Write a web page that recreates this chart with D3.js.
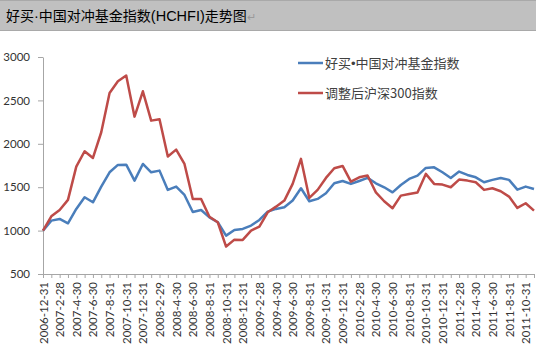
<!DOCTYPE html>
<html><head><meta charset="utf-8">
<script src="https://cdn.jsdelivr.net/npm/d3@7"></script>
<style>
html,body{margin:0;padding:0;background:#fff;}
svg{display:block;}
</style></head>
<body>
<svg id="c" width="536" height="355"></svg>
<script>
const dates = ["2006-12-31","2007-1-31","2007-2-28","2007-3-31","2007-4-30","2007-5-31","2007-6-30","2007-7-31","2007-8-31","2007-9-30","2007-10-31","2007-11-30","2007-12-31","2008-1-31","2008-2-29","2008-3-31","2008-4-30","2008-5-31","2008-6-30","2008-7-31","2008-8-31","2008-9-30","2008-10-31","2008-11-30","2008-12-31","2009-1-31","2009-2-28","2009-3-31","2009-4-30","2009-5-31","2009-6-30","2009-7-31","2009-8-31","2009-9-30","2009-10-31","2009-11-30","2009-12-31","2010-1-31","2010-2-28","2010-3-31","2010-4-30","2010-5-31","2010-6-30","2010-7-31","2010-8-31","2010-9-30","2010-10-31","2010-11-30","2010-12-31","2011-1-31","2011-2-28","2011-3-31","2011-4-30","2011-5-31","2011-6-30","2011-7-31","2011-8-31","2011-9-30","2011-10-31","2011-11-30"];
const hchfi = [1000,1115,1134,1084,1250,1384,1326,1507,1672,1757,1760,1576,1768,1672,1691,1469,1507,1411,1215,1238,1153,1096,942,1008,1019,1058,1123,1219,1250,1269,1346,1488,1338,1365,1430,1545,1572,1538,1572,1607,1545,1499,1441,1526,1595,1634,1722,1729,1672,1607,1680,1641,1614,1557,1584,1607,1584,1472,1507,1480];
const hs300 = [1000,1165,1238,1354,1737,1914,1837,2133,2586,2720,2786,2313,2605,2267,2282,1853,1933,1768,1365,1365,1160,1096,816,896,893,1000,1046,1211,1276,1346,1538,1826,1376,1469,1607,1718,1745,1564,1614,1634,1440,1338,1257,1403,1422,1438,1653,1538,1530,1499,1588,1576,1557,1469,1488,1453,1392,1261,1315,1230];
const yTicks = [500,1000,1500,2000,2500,3000];
const seriesNames = [["好买","•","中国对冲基金指数"],["调整后沪深300指数"]];
const colors = ["#4a7ebb","#be4b48"];
const titleParts = ["好买","·","中国对冲基金指数","(HCHFI)","走势图"];

const svg = d3.select("#c");
const W = 536;
const cjk = "'Noto Sans CJK SC'";
const latin = "'Liberation Sans', sans-serif";

// title band
svg.append("rect").attr("x",0).attr("y",0).attr("width",W).attr("height",30).attr("fill","#c0c0c0");
svg.append("line").attr("x1",0).attr("x2",W).attr("y1",0.5).attr("y2",0.5).attr("stroke","#a9a9a9");
svg.append("line").attr("x1",0).attr("x2",W).attr("y1",30.5).attr("y2",30.5).attr("stroke","#a9a9a9");
const tt = svg.append("text").attr("x",6).attr("y",21)
  .style("font-family",cjk).style("font-size","14px").attr("fill","#000");
titleParts.forEach((p,i)=>{
  const ts = tt.append("tspan").text(p);
  if (i===1 || i===3) ts.style("font-family",latin).style("font-size","14.5px");
});
tt.append("tspan").text("↵").attr("fill","#9a9a9a").style("font-size","11px");

const x = d3.scalePoint().domain(dates).range([43,534]);
const y = d3.scaleLinear().domain([500,3000]).range([274,57]);

const axisColor = "#a6a6a6";
const font = "Lato, 'Liberation Sans', sans-serif";

// y axis
const ya = svg.append("g").attr("transform","translate(43,0)")
  .call(d3.axisLeft(y).tickValues(yTicks).tickFormat(d3.format("d")).tickSize(5).tickSizeOuter(0).tickPadding(8));
ya.select(".domain").attr("stroke",axisColor);
ya.selectAll(".tick line").attr("stroke",axisColor);
ya.selectAll("text").style("font-family",font).style("font-size","11.5px").attr("fill","#333");

// x axis
const xa = svg.append("g").attr("transform","translate(0,274)")
  .call(d3.axisBottom(x).tickSize(4).tickSizeOuter(0).tickFormat((d,i)=> i%2===0 ? d : ""));
xa.select(".domain").attr("stroke",axisColor);
xa.selectAll(".tick line").attr("stroke",axisColor);
xa.selectAll("text")
  .style("font-family",font).style("font-size","11.5px").attr("fill","#333")
  .attr("transform","rotate(-90)").attr("text-anchor","end")
  .attr("x",-8).attr("y",0).attr("dy","0.35em");

// lines
const line = d3.line().x((d,i)=>x(dates[i])).y(d=>y(d));
[hchfi, hs300].forEach((s,k)=>{
  svg.append("path").datum(s).attr("d",line).attr("fill","none")
    .attr("stroke",colors[k]).attr("stroke-width",2.5).attr("stroke-linejoin","round");
});

// legend
const legY = [63, 93];
seriesNames.forEach((parts,k)=>{
  svg.append("line").attr("x1",298).attr("x2",323).attr("y1",legY[k]).attr("y2",legY[k])
    .attr("stroke",colors[k]).attr("stroke-width",2.5);
  const t = svg.append("text").attr("x",325).attr("y",legY[k]).attr("dy","0.35em")
    .style("font-family",cjk).style("font-size","13px").attr("fill","#404040");
  parts.forEach(p=>{
    const ts = t.append("tspan").text(p);
    if (p==="•") ts.style("font-family",latin);
  });
});
</script>
</body></html>
